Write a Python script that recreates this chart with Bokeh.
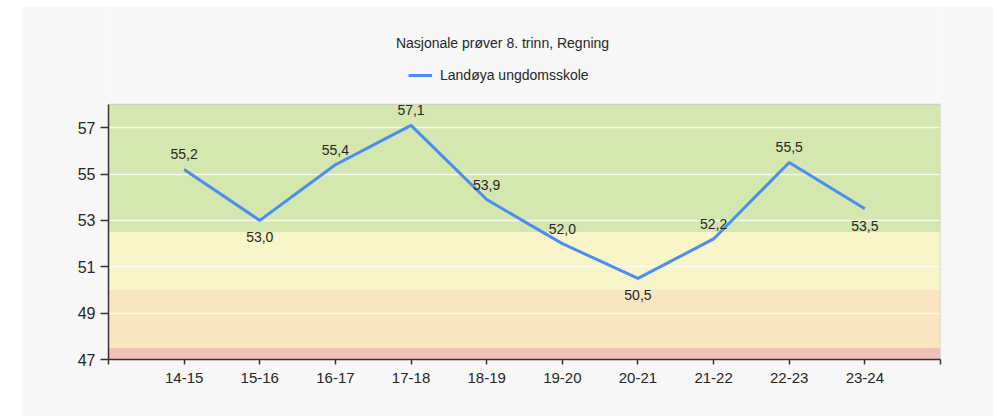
import numpy as np
from bokeh.plotting import figure
from bokeh.models import (ColumnDataSource, LabelSet, Label, Legend, LegendItem,
                          FixedTicker, Range1d, Spacer)
from bokeh.layouts import row, column
from bokeh.core.properties import value
from bokeh.embed import file_html
from bokeh.resources import INLINE

# ---- data ----
title_text = "Nasjonale prøver 8. trinn, Regning"
series_name = "Landøya ungdomsskole"
seasons = ["14-15", "15-16", "16-17", "17-18", "18-19", "19-20", "20-21", "21-22", "22-23", "23-24"]
scores = [55.2, 53.0, 55.4, 57.1, 53.9, 52.0, 50.5, 52.2, 55.5, 53.5]
y_ticks = [47, 49, 51, 53, 55, 57]
band_bottoms = [47.0, 47.5, 50.0, 52.5]
band_tops = [47.5, 50.0, 52.5, 58.0]
band_colors = ["#f0c1b6", "#f9e5c0", "#f8f5c9", "#d4e7ae"]

FONT = "Liberation Sans"
TXT = "#262626"
BG = "#f7f7f7"

n = len(seasons)
xs = np.arange(1, n + 1)
x_lo, x_hi = 0, n + 1
y_lo, y_top = band_bottoms[0], band_tops[-1]

# layout: plot area 832 x 255 px; the frame extends upward to hold title + legend
FRAME_H = 353
PLOT_H = 255
y_hi = y_lo + (y_top - y_lo) * FRAME_H / PLOT_H

p = figure(width=972, height=410, output_backend="svg", toolbar_location=None,
           x_range=Range1d(x_lo, x_hi), y_range=Range1d(y_lo, y_hi),
           min_border_left=87, min_border_top=0, min_border_right=53, min_border_bottom=57)
p.background_fill_color = BG
p.border_fill_color = BG
p.outline_line_color = None

# bands
band_src = ColumnDataSource(dict(bottom=band_bottoms, top=band_tops, color=band_colors,
                                 left=[x_lo] * len(band_bottoms), right=[x_hi] * len(band_bottoms)))
p.quad(left="left", right="right", bottom="bottom", top="top", fill_color="color",
       line_color=None, source=band_src, level="underlay")
# plot-area border (top / right)
p.line(x=[x_lo, x_hi, x_hi], y=[y_top, y_top, y_lo], line_color="#cfcfcf", line_width=1.5)

# grid
p.xgrid.visible = False
p.ygrid.ticker = FixedTicker(ticks=y_ticks)
p.ygrid.grid_line_color = "white"
p.ygrid.grid_line_alpha = 0.75
p.ygrid.grid_line_width = 1.5

# line
src = ColumnDataSource(dict(x=xs, y=scores))
ln = p.line("x", "y", source=src, line_color="#4a8ef0", line_width=3)

# value labels: below the point at local minima, above otherwise
lab_text = [f"{v:.1f}".replace(".", ",") for v in scores]
offsets = []
for i, v in enumerate(scores):
    prev_v = scores[i - 1] if i > 0 else None
    next_v = scores[i + 1] if i < n - 1 else None
    is_min = (prev_v is None or prev_v > v) and (next_v is None or next_v > v)
    offsets.append(-17 if is_min else 15)
lab_src = ColumnDataSource(dict(x=xs, y=scores, t=lab_text, off=offsets))
p.add_layout(LabelSet(x="x", y="y", text="t", y_offset="off", source=lab_src,
                      text_align="center", text_baseline="middle",
                      text_font=value(FONT), text_font_size=value("14px"), text_color=value(TXT)))

# axes
p.xaxis.ticker = FixedTicker(ticks=list(range(x_lo, x_hi + 1)))
ovr = {int(i): s for i, s in zip(xs, seasons)}
ovr.update({x_lo: "", x_hi: ""})
p.xaxis.major_label_overrides = ovr
p.xaxis.minor_tick_line_color = None
p.xaxis.major_tick_in = 0
p.xaxis.major_tick_out = 5
p.xaxis.major_label_standoff = 8
p.yaxis.ticker = FixedTicker(ticks=y_ticks)
p.yaxis.bounds = (y_lo, y_top)
p.yaxis.minor_tick_line_color = None
p.yaxis.major_tick_in = 0
p.yaxis.major_tick_out = 8
p.yaxis.major_label_standoff = 5
for ax in (p.xaxis, p.yaxis):
    ax.axis_line_color = "#333333"
    ax.axis_line_width = 1.5
    ax.major_tick_line_color = "#333333"
    ax.major_tick_line_width = 1.5
    ax.major_label_text_font = FONT
    ax.major_label_text_color = TXT
p.xaxis.major_label_text_font_size = "15px"
p.yaxis.major_label_text_font_size = "16px"

# title (screen units from the frame's bottom-left)
p.add_layout(Label(x=394, y=317, x_units="screen", y_units="screen", text=title_text,
                   text_align="center", text_baseline="middle",
                   text_font=FONT, text_font_size="14px", text_color=TXT))

# legend
legend = Legend(items=[LegendItem(label=series_name, renderers=[ln])], location=(300, 274),
                glyph_width=24, glyph_height=20, label_height=20, label_standoff=8,
                padding=0, margin=0, border_line_color=None, background_fill_alpha=0,
                label_text_font=FONT, label_text_font_size="14px", label_text_color=TXT)
p.add_layout(legend, "center")

layout = column(Spacer(height=6), row(Spacer(width=21), p))
open("out.html", "w").write(file_html(layout, INLINE))
